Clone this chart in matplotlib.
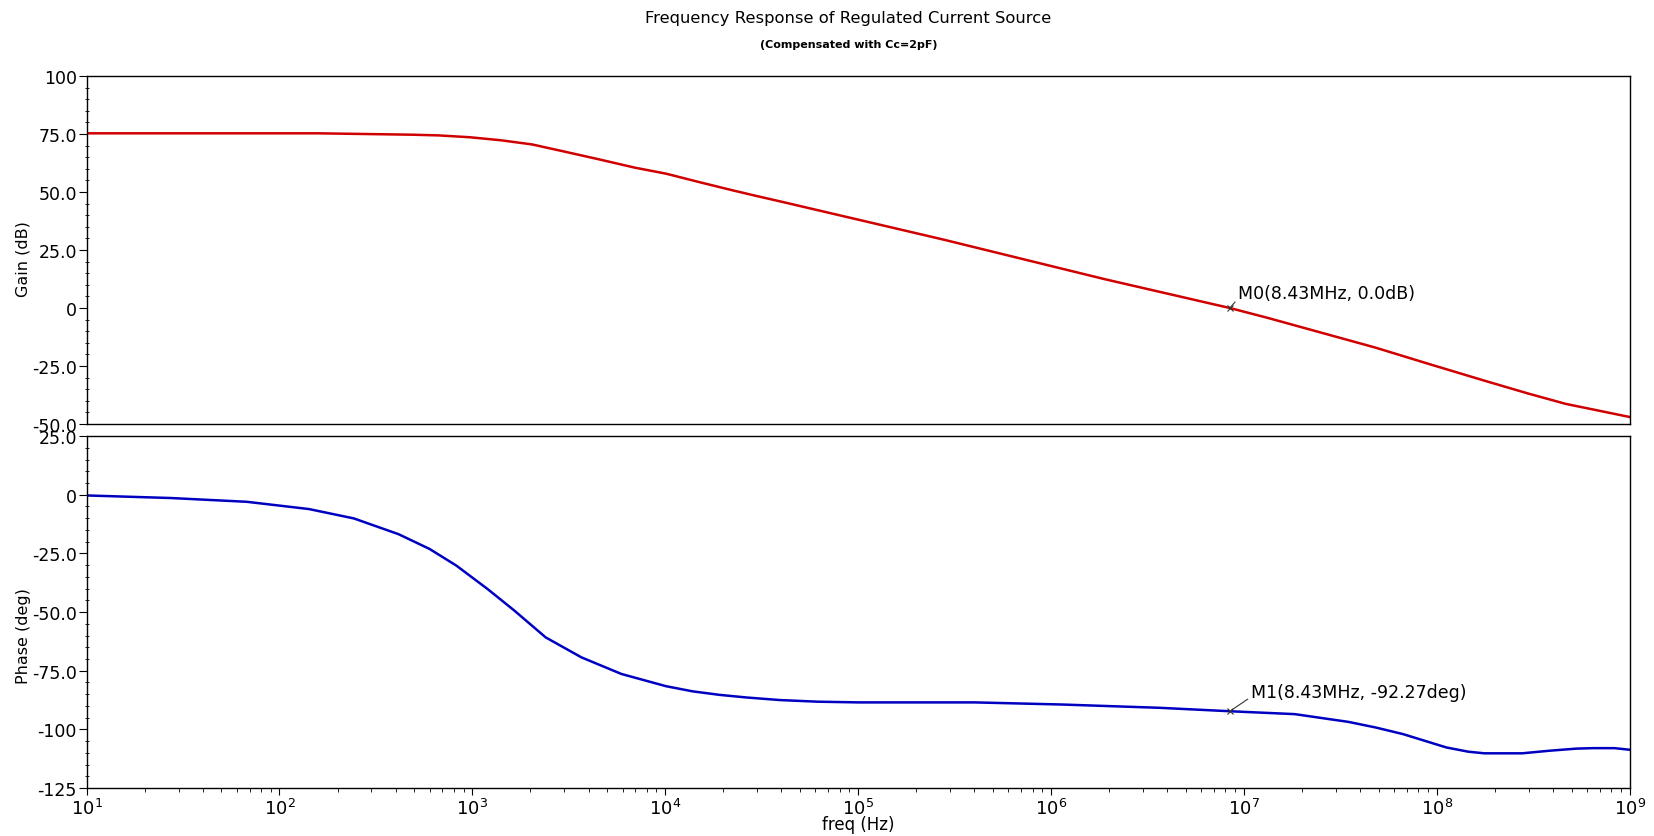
import numpy as np
import matplotlib.pyplot as plt
from matplotlib.ticker import FixedLocator, FixedFormatter, NullFormatter

# values (log10 of frequency in Hz)
gain_logf = [1.0, 2.2, 2.687, 2.825, 2.987, 3.148, 3.31, 3.473, 3.655, 3.842, 4.004, 4.189, 4.35,
             4.467, 4.593, 5.436, 6.279, 6.926, 7.12, 7.682, 7.965, 8.245, 8.47, 8.666, 9.0]
gain_db = [75.3, 75.3, 74.7, 74.4, 73.6, 72.3, 70.5, 67.5, 64.1, 60.5, 57.9, 54.0, 50.7,
           48.4, 46.0, 29.6, 12.4, 0.0, -4.2, -17.1, -24.3, -31.3, -36.8, -41.3, -47.0]

phase_logf = [1.0, 1.437, 1.83, 2.153, 2.386, 2.617, 2.778, 2.917, 3.079, 3.218, 3.38, 3.565, 3.773,
              4.004, 4.142, 4.282, 4.42, 4.593, 4.79, 5.0, 5.603, 6.054, 6.56, 6.926, 7.262, 7.54,
              7.682, 7.823, 8.048, 8.161, 8.245, 8.441, 8.582, 8.722, 8.806, 8.92, 9.0]
phase_deg = [-0.3, -1.4, -3.0, -6.1, -10.1, -16.8, -23.1, -30.2, -40.2, -49.4, -60.8, -69.3, -76.4,
             -81.6, -83.8, -85.3, -86.4, -87.5, -88.2, -88.5, -88.5, -89.4, -90.8, -92.27, -93.5, -96.8,
             -99.2, -102.0, -107.7, -109.5, -110.2, -110.2, -109.1, -108.2, -108.0, -108.0, -108.7]

gain_ticks = [100, 75, 50, 25, 0, -25, -50]
gain_labels = ["100", "75.0", "50.0", "25.0", "0", "-25.0", "-50.0"]
phase_ticks = [25, 0, -25, -50, -75, -100, -125]
phase_labels = ["25.0", "0", "-25.0", "-50.0", "-75.0", "-100", "-125"]
decades = [1, 2, 3, 4, 5, 6, 7, 8, 9]

marker_f = 8.43e6
marker_gain = 0.0
marker_phase = -92.27

freq_g = 10 ** np.array(gain_logf)
freq_p = 10 ** np.array(phase_logf)

fig = plt.figure(figsize=(16.54, 8.37), dpi=100)
ax1 = fig.add_axes([0.0523, 0.4922, 0.9332, 0.4158])
ax2 = fig.add_axes([0.0523, 0.0573, 0.9332, 0.4205])

ax1.plot(freq_g, gain_db, color='#d00000', lw=1.8)
ax2.plot(freq_p, phase_deg, color='#0000c0', lw=1.8)

minor_x = [m * 10.0 ** d for d in decades[:-1] for m in range(2, 10)]

for ax, ticks, labels, lim in [(ax1, gain_ticks, gain_labels, (-50, 100)),
                               (ax2, phase_ticks, phase_labels, (-125, 25))]:
    ax.set_xscale('log')
    ax.set_xlim(10, 1e9)
    ax.set_ylim(*lim)
    ax.yaxis.set_major_locator(FixedLocator(ticks))
    ax.yaxis.set_major_formatter(FixedFormatter(labels))
    ax.yaxis.set_minor_locator(FixedLocator(np.arange(lim[0], lim[1] + 1, 5)))
    ax.tick_params(axis='y', which='major', length=6, labelsize=12.5, pad=1)
    ax.tick_params(axis='y', which='minor', length=3, direction='inout')
    ax.xaxis.set_major_locator(FixedLocator([10.0 ** d for d in decades]))
    ax.xaxis.set_major_formatter(FixedFormatter(["$10^{%d}$" % d for d in decades]))
    ax.xaxis.set_minor_locator(FixedLocator(minor_x))
    ax.xaxis.set_minor_formatter(NullFormatter())
    for s in ax.spines.values():
        s.set_linewidth(1.0)

ax1.tick_params(axis='x', which='both', length=0, labelbottom=False)
ax2.tick_params(axis='x', which='major', length=5, labelsize=13, pad=2)
ax2.tick_params(axis='x', which='minor', length=3)

ax1.set_ylabel("Gain (dB)", fontsize=11.5)
ax2.set_ylabel("Phase (deg)", fontsize=11.5)
ax1.yaxis.set_label_coords(-0.036, 0.477)
ax2.yaxis.set_label_coords(-0.036, 0.435)
ax2.set_xlabel("freq (Hz)", fontsize=12, labelpad=-2)

# markers
ax1.plot([marker_f], [marker_gain], marker='x', color='#333333', ms=4, mew=0.8)
ax1.annotate("M0(8.43MHz, 0.0dB)", xy=(marker_f, marker_gain), xytext=(marker_f * 1.10, 6.3),
             fontsize=12.5, va='center', ha='left',
             arrowprops=dict(arrowstyle='-', color='#333333', lw=0.8, shrinkA=0, shrinkB=0,
                             relpos=(0.0, 0.2)))
ax2.plot([marker_f], [marker_phase], marker='x', color='#333333', ms=4, mew=0.8)
ax2.annotate("M1(8.43MHz, -92.27deg)", xy=(marker_f, marker_phase), xytext=(marker_f * 1.28, -84.0),
             fontsize=12.5, va='center', ha='left',
             arrowprops=dict(arrowstyle='-', color='#333333', lw=0.8, shrinkA=0, shrinkB=0,
                             relpos=(0.0, 0.2)))

fig.text(0.513, 0.978, "Frequency Response of Regulated Current Source", ha='center', va='center',
         fontsize=11.8)
fig.text(0.513, 0.946, "(Compensated with Cc=2pF)", ha='center', va='center',
         fontsize=8, fontweight='bold')

fig.savefig("out.png", dpi=100)
